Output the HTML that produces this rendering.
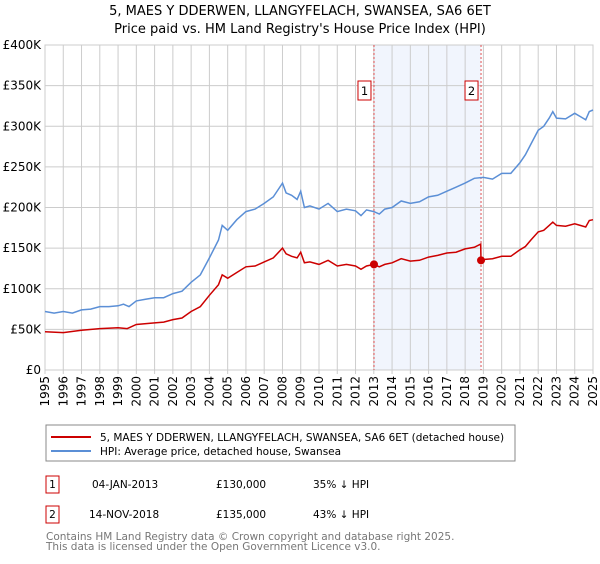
<!DOCTYPE html>
<html><head><meta charset="utf-8"><style>
body{margin:0;background:#fff;font-family:"DejaVu Sans","Liberation Sans",sans-serif;}
svg text{font-family:"DejaVu Sans","Liberation Sans",sans-serif;}
</style></head><body>
<svg id="c" width="600" height="560" xmlns="http://www.w3.org/2000/svg">
<text x="300" y="15" text-anchor="middle" font-size="13">5, MAES Y DDERWEN, LLANGYFELACH, SWANSEA, SA6 6ET</text>
<text x="300" y="33" text-anchor="middle" font-size="13">Price paid vs. HM Land Registry's House Price Index (HPI)</text>
<g id="grid"></g><g id="series"></g><g id="axes"></g>
<g>
<rect x="46" y="425" width="469" height="36" fill="#fff" stroke="#888"/>
<line x1="51" y1="437" x2="91" y2="437" stroke="#cc0000" stroke-width="2"/>
<text x="100" y="441" font-size="10.5">5, MAES Y DDERWEN, LLANGYFELACH, SWANSEA, SA6 6ET (detached house)</text>
<line x1="51" y1="451" x2="91" y2="451" stroke="#5b8fd6" stroke-width="2"/>
<text x="100" y="455" font-size="10.5">HPI: Average price, detached house, Swansea</text>
</g>
<g font-size="10.5">
<rect x="46" y="476" width="13" height="17" fill="none" stroke="#cc0000"/>
<text x="52.5" y="488" text-anchor="middle">1</text>
<text x="92" y="488">04-JAN-2013</text><text x="216" y="488">£130,000</text><text x="313" y="488">35% ↓ HPI</text>
<rect x="46" y="506" width="13" height="17" fill="none" stroke="#cc0000"/>
<text x="52.5" y="518" text-anchor="middle">2</text>
<text x="89" y="518">14-NOV-2018</text><text x="216" y="518">£135,000</text><text x="313" y="518">43% ↓ HPI</text>
</g>
<text x="46" y="540" font-size="10.5" fill="#777">Contains HM Land Registry data © Crown copyright and database right 2025.</text>
<text x="46" y="550" font-size="10.5" fill="#777">This data is licensed under the Open Government Licence v3.0.</text>
</svg>
<script>
const hpiYears=[1995,1995.5,1996,1996.5,1997,1997.5,1998,1998.5,1999,1999.3,1999.6,2000,2000.5,2001,2001.5,2002,2002.5,2003,2003.5,2004,2004.5,2004.7,2005,2005.5,2006,2006.5,2007,2007.5,2008,2008.2,2008.5,2008.8,2009,2009.2,2009.5,2010,2010.5,2011,2011.5,2012,2012.3,2012.6,2013,2013.3,2013.6,2014,2014.5,2015,2015.5,2016,2016.5,2017,2017.5,2018,2018.5,2019,2019.5,2020,2020.5,2021,2021.3,2021.6,2022,2022.3,2022.6,2022.8,2023,2023.5,2024,2024.3,2024.6,2024.8,2025];
const hpiValues=[72,70,72,70,74,75,78,78,79,81,78,85,87,89,89,94,97,108,117,138,160,178,172,185,195,198,205,213,230,218,215,210,220,200,202,198,205,195,198,196,190,197,195,192,198,200,208,205,207,213,215,220,225,230,236,237,235,242,242,255,265,278,295,300,310,318,310,309,316,312,308,318,320];
const propYears=[1995,1996,1997,1998,1999,1999.5,2000,2001,2001.5,2002,2002.5,2003,2003.5,2004,2004.5,2004.7,2005,2005.5,2006,2006.5,2007,2007.5,2008,2008.2,2008.5,2008.8,2009,2009.2,2009.5,2010,2010.5,2011,2011.5,2012,2012.3,2012.6,2013,2013.3,2013.6,2014,2014.5,2015,2015.5,2016,2016.5,2017,2017.5,2018,2018.5,2018.85,2018.87,2019,2019.5,2020,2020.5,2021,2021.3,2021.6,2022,2022.3,2022.6,2022.8,2023,2023.5,2024,2024.3,2024.6,2024.8,2025];
const propValues=[47,46,49,51,52,51,56,58,59,62,64,72,78,92,105,117,113,120,127,128,133,138,150,143,140,138,145,132,133,130,135,128,130,128,124,128,130,127,130,132,137,134,135,139,141,144,145,149,151,155,135,136,137,140,140,148,152,160,170,172,178,182,178,177,180,178,176,184,185];
const saleYears=[2013.01,2018.87];
const saleValues=[130,135];
const saleLabels=["1","2"];
const yTicks=[0,50,100,150,200,250,300,350,400];
const yTickLabels=["£0","£50K","£100K","£150K","£200K","£250K","£300K","£350K","£400K"];
const xTicks=[1995,1996,1997,1998,1999,2000,2001,2002,2003,2004,2005,2006,2007,2008,2009,2010,2011,2012,2013,2014,2015,2016,2017,2018,2019,2020,2021,2022,2023,2024,2025];
const NS="http://www.w3.org/2000/svg";
const X0=45,X1=593,Y0=370,Y1=45;
const sx=v=>X0+(v-1995)/30*(X1-X0);
const sy=v=>Y0-v/400*(Y0-Y1);
function mk(t,a,p){const e=document.createElementNS(NS,t);for(const k in a)e.setAttribute(k,a[k]);p.appendChild(e);return e;}
const grid=document.getElementById('grid'),ser=document.getElementById('series'),ax=document.getElementById('axes');
const sh=mk('rect',{x:sx(saleYears[0]),y:Y1,width:sx(saleYears[1])-sx(saleYears[0]),height:Y0-Y1,fill:'#eef3fc',opacity:0.8},grid);


yTicks.forEach((t,i)=>{
 const l=mk('line',{x1:X0,x2:X1,y1:sy(t),y2:sy(t),stroke:'#ccc'},grid);
 
 
 const tx=mk('text',{x:X0-4,y:sy(t)+4,'text-anchor':'end','font-size':'12'},ax);
 tx.textContent=yTickLabels[i];
 
 
});
xTicks.forEach(t=>{
 const l=mk('line',{x1:sx(t),x2:sx(t),y1:Y1,y2:Y0+4,stroke:'#ccc'},grid);
 
 
 const tx=mk('text',{x:0,y:0,'text-anchor':'end','font-size':'12',transform:`translate(${sx(t)+4},${Y0+6}) rotate(-90)`},ax);
 tx.textContent=t;
 
 
});
const fr=mk('rect',{x:X0,y:Y1,width:X1-X0,height:Y0-Y1,fill:'none',stroke:'#ccc'},grid);


saleYears.forEach((s,i)=>{
 const l=mk('line',{x1:sx(s),x2:sx(s),y1:Y1,y2:Y0,stroke:'#e05050','stroke-dasharray':'2,2'},ser);
 
 
});
function path(xs,ys,c,name){
 const d=xs.map((x,i)=>(i?'L':'M')+sx(x).toFixed(1)+','+sy(ys[i]).toFixed(1)).join('');
 const p=mk('path',{d:d,fill:'none',stroke:c,'stroke-width':1.5},ser);
 
 
}
path(hpiYears,hpiValues,'#5b8fd6','hpi-line');
path(propYears,propValues,'#cc0000','property-line');
saleYears.forEach((s,i)=>{
 const c=mk('circle',{cx:sx(s),cy:sy(saleValues[i]),r:4,fill:'#cc0000'},ser);
 
 
 const bx=sx(s)-10;
 const r=mk('rect',{x:bx-6,y:81,width:13,height:19,fill:'#fff',stroke:'#cc0000'},ser);
 
 
 const t=mk('text',{x:bx+0.5,y:95,'text-anchor':'middle','font-size':'11.5'},ser);
 t.textContent=saleLabels[i];
 
 
});
</script>
</body></html>
